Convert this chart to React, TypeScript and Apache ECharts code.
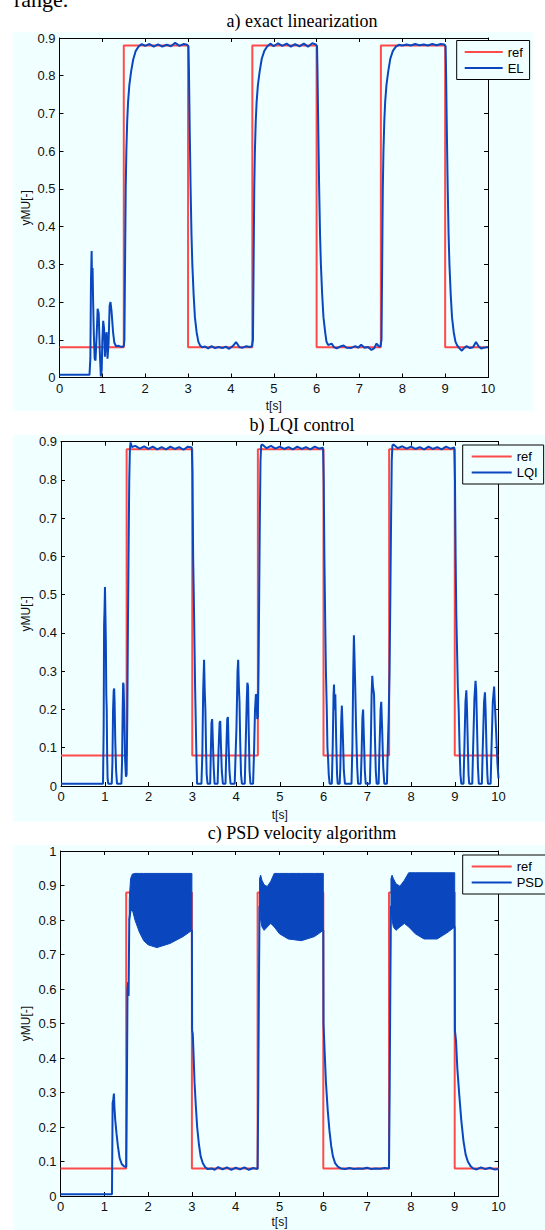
import React, { useEffect, useRef } from "react";
import * as echarts from "echarts";

// ---------------- data ----------------
const refTimes = [0, 1.5, 1.5, 3, 3, 4.5, 4.5, 6, 6, 7.5, 7.5, 9, 9, 10];
const refLevels = [0.08, 0.08, 0.88, 0.88, 0.08, 0.08, 0.88, 0.88, 0.08, 0.08, 0.88, 0.88, 0.08, 0.08];

const elData = [
  [0, 0.007], [0.7, 0.007], [0.72, 0.05], [0.735, 0.26], [0.75, 0.335], [0.76, 0.25], [0.772, 0.29], [0.785, 0.2],
  [0.8, 0.12], [0.82, 0.05], [0.84, 0.045], [0.87, 0.12], [0.89, 0.182], [0.915, 0.17], [0.94, 0.07], [0.965, 0.003],
  [0.985, 0.02], [1.0, 0.1], [1.02, 0.15], [1.04, 0.13], [1.06, 0.055], [1.08, 0.11], [1.1, 0.12], [1.12, 0.05],
  [1.145, 0.09], [1.17, 0.19], [1.19, 0.2], [1.215, 0.175], [1.25, 0.12], [1.28, 0.092], [1.32, 0.083], [1.38, 0.084],
  [1.44, 0.081], [1.5, 0.083],
  [1.515, 0.1], [1.53, 0.3], [1.545, 0.5], [1.56, 0.6], [1.58, 0.68], [1.6, 0.73], [1.63, 0.775], [1.67, 0.81],
  [1.72, 0.843], [1.78, 0.866], [1.85, 0.878], [1.92, 0.884], [2.0, 0.879], [2.1, 0.884], [2.2, 0.877], [2.3, 0.883],
  [2.4, 0.877], [2.5, 0.882], [2.6, 0.878], [2.7, 0.887], [2.8, 0.879], [2.9, 0.884], [2.98, 0.882],
  [3.01, 0.878], [3.02, 0.82], [3.04, 0.65], [3.06, 0.5], [3.08, 0.38], [3.1, 0.3], [3.13, 0.22], [3.16, 0.16],
  [3.2, 0.12], [3.24, 0.095], [3.28, 0.085], [3.33, 0.08], [3.4, 0.082], [3.47, 0.077], [3.55, 0.083], [3.63, 0.078],
  [3.71, 0.081], [3.8, 0.078], [3.88, 0.082], [3.96, 0.076], [4.05, 0.084], [4.12, 0.094], [4.2, 0.08], [4.28, 0.079],
  [4.36, 0.083], [4.44, 0.081], [4.49, 0.083],
  [4.515, 0.1], [4.53, 0.3], [4.545, 0.5], [4.56, 0.6], [4.58, 0.68], [4.6, 0.73], [4.63, 0.775], [4.67, 0.81],
  [4.72, 0.845], [4.78, 0.866], [4.85, 0.878], [4.92, 0.885], [5.0, 0.878], [5.1, 0.886], [5.2, 0.879], [5.3, 0.885],
  [5.4, 0.877], [5.5, 0.884], [5.6, 0.878], [5.7, 0.885], [5.8, 0.877], [5.9, 0.886], [5.98, 0.883],
  [6.01, 0.878], [6.02, 0.82], [6.04, 0.65], [6.06, 0.5], [6.08, 0.38], [6.1, 0.3], [6.13, 0.22], [6.16, 0.16],
  [6.2, 0.12], [6.23, 0.095], [6.27, 0.086], [6.35, 0.09], [6.41, 0.08], [6.47, 0.077], [6.55, 0.082], [6.63, 0.085],
  [6.7, 0.079], [6.8, 0.078], [6.9, 0.083], [6.97, 0.079], [7.04, 0.087], [7.12, 0.079], [7.2, 0.081], [7.28, 0.073],
  [7.34, 0.077], [7.4, 0.09], [7.46, 0.082], [7.49, 0.083],
  [7.515, 0.1], [7.53, 0.3], [7.545, 0.5], [7.56, 0.6], [7.58, 0.68], [7.6, 0.73], [7.63, 0.775], [7.67, 0.81],
  [7.72, 0.845], [7.78, 0.866], [7.85, 0.877], [7.92, 0.882], [8.0, 0.88], [8.1, 0.883], [8.2, 0.88], [8.3, 0.884],
  [8.4, 0.881], [8.5, 0.883], [8.6, 0.88], [8.7, 0.884], [8.8, 0.881], [8.9, 0.884], [8.98, 0.883],
  [9.01, 0.878], [9.02, 0.82], [9.04, 0.65], [9.06, 0.5], [9.08, 0.38], [9.1, 0.3], [9.13, 0.22], [9.16, 0.16],
  [9.2, 0.12], [9.24, 0.095], [9.28, 0.085], [9.33, 0.078], [9.39, 0.071], [9.45, 0.079], [9.5, 0.083], [9.58, 0.078],
  [9.65, 0.08], [9.72, 0.094], [9.78, 0.083], [9.84, 0.077], [9.9, 0.079], [9.96, 0.08], [10, 0.081],
];

const lqiData = [
  [0, 0.006], [0.96, 0.006], [0.975, 0.15], [0.985, 0.42], [0.995, 0.46], [1.005, 0.52], [1.015, 0.45], [1.025, 0.38],
  [1.035, 0.24], [1.045, 0.2], [1.055, 0.08], [1.065, 0.02], [1.08, 0.006], [1.16, 0.006], [1.175, 0.06], [1.19, 0.2],
  [1.205, 0.25], [1.215, 0.255], [1.225, 0.22], [1.24, 0.12], [1.26, 0.04], [1.28, 0.006], [1.38, 0.006], [1.395, 0.06],
  [1.41, 0.2], [1.42, 0.27], [1.43, 0.265], [1.445, 0.19], [1.465, 0.07], [1.485, 0.024], [1.5, 0.03], [1.515, 0.18],
  [1.53, 0.42], [1.545, 0.62], [1.56, 0.8], [1.575, 0.88], [1.59, 0.898], [1.62, 0.886], [1.7, 0.889], [1.8, 0.882],
  [1.9, 0.888], [2.0, 0.881], [2.1, 0.887], [2.2, 0.88], [2.3, 0.886], [2.4, 0.88], [2.5, 0.887], [2.6, 0.881],
  [2.7, 0.886], [2.8, 0.879], [2.9, 0.887], [2.99, 0.885],
  [3.005, 0.82], [3.02, 0.6], [3.035, 0.5], [3.05, 0.38], [3.065, 0.26], [3.08, 0.17], [3.095, 0.08], [3.11, 0.006],
  [3.21, 0.006], [3.23, 0.08], [3.25, 0.25], [3.27, 0.33], [3.285, 0.25], [3.3, 0.2], [3.315, 0.1], [3.33, 0.03],
  [3.35, 0.006], [3.41, 0.006], [3.425, 0.09], [3.44, 0.165], [3.455, 0.175], [3.47, 0.12], [3.49, 0.05], [3.51, 0.006],
  [3.58, 0.006], [3.6, 0.09], [3.625, 0.165], [3.64, 0.17], [3.655, 0.11], [3.675, 0.04], [3.7, 0.006], [3.76, 0.006],
  [3.78, 0.1], [3.8, 0.175], [3.815, 0.18], [3.83, 0.11], [3.85, 0.04], [3.875, 0.006], [3.97, 0.006], [3.99, 0.08],
  [4.01, 0.15], [4.035, 0.3], [4.05, 0.33], [4.065, 0.26], [4.08, 0.22], [4.095, 0.12], [4.115, 0.03], [4.135, 0.006],
  [4.2, 0.006], [4.22, 0.1], [4.245, 0.22], [4.26, 0.27], [4.275, 0.26], [4.29, 0.15], [4.31, 0.04], [4.33, 0.006],
  [4.39, 0.006], [4.41, 0.08], [4.435, 0.2], [4.455, 0.24], [4.47, 0.235], [4.485, 0.175], [4.5, 0.18], [4.515, 0.3],
  [4.53, 0.5], [4.545, 0.7], [4.56, 0.85], [4.575, 0.89], [4.6, 0.893], [4.7, 0.883], [4.8, 0.889], [4.9, 0.882],
  [5.0, 0.887], [5.1, 0.881], [5.2, 0.886], [5.3, 0.88], [5.4, 0.887], [5.5, 0.881], [5.6, 0.886], [5.7, 0.88],
  [5.8, 0.887], [5.9, 0.882], [5.99, 0.884],
  [6.005, 0.8], [6.02, 0.6], [6.04, 0.42], [6.055, 0.3], [6.075, 0.2], [6.09, 0.1], [6.105, 0.07], [6.12, 0.03],
  [6.14, 0.006], [6.19, 0.006], [6.21, 0.1], [6.23, 0.24], [6.24, 0.265], [6.255, 0.2], [6.27, 0.24], [6.29, 0.12],
  [6.31, 0.03], [6.325, 0.006], [6.37, 0.006], [6.385, 0.05], [6.405, 0.17], [6.42, 0.21], [6.44, 0.14], [6.465, 0.04],
  [6.49, 0.006], [6.64, 0.006], [6.66, 0.1], [6.68, 0.3], [6.695, 0.394], [6.71, 0.33], [6.725, 0.26], [6.745, 0.15],
  [6.77, 0.05], [6.79, 0.006], [6.85, 0.006], [6.87, 0.08], [6.89, 0.18], [6.905, 0.2], [6.925, 0.12], [6.945, 0.04],
  [6.965, 0.006], [7.06, 0.006], [7.08, 0.1], [7.1, 0.24], [7.115, 0.288], [7.13, 0.26], [7.155, 0.24], [7.175, 0.13],
  [7.195, 0.04], [7.215, 0.006], [7.26, 0.006], [7.28, 0.1], [7.305, 0.2], [7.32, 0.22], [7.34, 0.15], [7.365, 0.05],
  [7.39, 0.006], [7.45, 0.006], [7.47, 0.1], [7.49, 0.18], [7.51, 0.3], [7.53, 0.52], [7.545, 0.7], [7.56, 0.85],
  [7.575, 0.89], [7.6, 0.893], [7.7, 0.883], [7.8, 0.888], [7.9, 0.882], [8.0, 0.887], [8.1, 0.881], [8.2, 0.886],
  [8.3, 0.88], [8.4, 0.887], [8.5, 0.881], [8.6, 0.886], [8.7, 0.88], [8.8, 0.887], [8.9, 0.882], [8.99, 0.885],
  [9.005, 0.8], [9.02, 0.6], [9.035, 0.45], [9.05, 0.37], [9.07, 0.26], [9.09, 0.2], [9.11, 0.1], [9.13, 0.03],
  [9.15, 0.006], [9.2, 0.006], [9.22, 0.1], [9.245, 0.22], [9.265, 0.25], [9.28, 0.2], [9.3, 0.1], [9.315, 0.03],
  [9.33, 0.006], [9.4, 0.006], [9.42, 0.1], [9.45, 0.23], [9.475, 0.275], [9.49, 0.25], [9.51, 0.15], [9.53, 0.05],
  [9.55, 0.006], [9.62, 0.006], [9.64, 0.1], [9.67, 0.22], [9.69, 0.245], [9.705, 0.2], [9.725, 0.1], [9.745, 0.03],
  [9.76, 0.006], [9.82, 0.006], [9.84, 0.1], [9.87, 0.22], [9.9, 0.26], [9.915, 0.22], [9.95, 0.13], [9.975, 0.06],
  [10, 0.02],
];

// PSD trace outside the fast-oscillation bands (line), bands as [t, lower, upper]
const psdData = [
  [0, 0.005], [1.175, 0.005], [1.19, 0.27], [1.205, 0.28], [1.22, 0.297], [1.23, 0.26], [1.25, 0.22], [1.28, 0.18],
  [1.31, 0.145], [1.35, 0.11], [1.4, 0.092], [1.45, 0.086], [1.5, 0.084], [1.515, 0.3], [1.53, 0.6], [1.545, 0.62],
  [1.555, 0.58], [1.57, 0.8], [1.6, 0.83], [3.0, 0.77],
  [3.005, 0.48], [3.02, 0.47], [3.035, 0.42], [3.06, 0.33], [3.09, 0.26], [3.12, 0.2], [3.16, 0.15], [3.2, 0.115],
  [3.25, 0.095], [3.3, 0.084], [3.36, 0.078], [3.45, 0.08], [3.52, 0.076], [3.6, 0.084], [3.7, 0.077], [3.8, 0.083],
  [3.9, 0.076], [4.0, 0.082], [4.1, 0.077], [4.2, 0.083], [4.3, 0.076], [4.4, 0.081], [4.5, 0.078], [4.515, 0.3],
  [4.53, 0.6], [4.545, 0.84], [6.0, 0.77],
  [6.005, 0.5], [6.03, 0.42], [6.06, 0.33], [6.1, 0.25], [6.14, 0.19], [6.18, 0.145], [6.22, 0.115], [6.27, 0.095],
  [6.33, 0.085], [6.4, 0.08], [6.5, 0.078], [6.6, 0.081], [6.7, 0.078], [6.8, 0.08], [6.9, 0.079], [7.0, 0.082],
  [7.1, 0.078], [7.2, 0.08], [7.3, 0.079], [7.4, 0.081], [7.5, 0.08], [7.515, 0.3], [7.53, 0.6], [7.545, 0.84],
  [9.0, 0.78],
  [9.005, 0.48], [9.03, 0.45], [9.06, 0.37], [9.1, 0.3], [9.15, 0.22], [9.2, 0.16], [9.25, 0.12], [9.3, 0.1],
  [9.36, 0.087], [9.42, 0.08], [9.5, 0.077], [9.6, 0.083], [9.7, 0.078], [9.8, 0.082], [9.9, 0.077], [10, 0.078],
];

const psdBand1 = [
  [1.57, 0.8, 0.86], [1.6, 0.83, 0.92], [1.64, 0.83, 0.933], [1.7, 0.8, 0.935], [1.8, 0.765, 0.935], [1.9, 0.74, 0.935],
  [2.0, 0.728, 0.935], [2.2, 0.72, 0.935], [2.5, 0.732, 0.935], [2.8, 0.752, 0.935], [3.0, 0.77, 0.935],
];
const psdBand2 = [
  [4.545, 0.84, 0.92], [4.57, 0.8, 0.93], [4.6, 0.78, 0.915], [4.65, 0.77, 0.902], [4.72, 0.78, 0.897],
  [4.8, 0.79, 0.912], [4.88, 0.78, 0.935], [5.0, 0.76, 0.935], [5.2, 0.745, 0.935], [5.5, 0.74, 0.935],
  [5.8, 0.752, 0.935], [6.0, 0.77, 0.935],
];
const psdBand3 = [
  [7.545, 0.84, 0.92], [7.57, 0.8, 0.93], [7.6, 0.78, 0.92], [7.66, 0.77, 0.905], [7.75, 0.78, 0.898],
  [7.85, 0.79, 0.915], [7.95, 0.78, 0.937], [8.1, 0.76, 0.937], [8.3, 0.745, 0.937], [8.6, 0.745, 0.937],
  [8.85, 0.765, 0.937], [9.0, 0.78, 0.937],
];

const titles = ["a) exact linearization", "b) LQI control", "c) PSD velocity algorithm"];
const traceNames = ["EL", "LQI", "PSD"];
const yMaxes = [0.9, 0.9, 1.0];

// ---------------- layout / style ----------------
const W = 545;
const H = 1230;
const RED = "#ff4a4a";
const BLUE = "#0a47bf";
const BG = "#f0ffff";
const SANS = "'Liberation Sans', Arial, sans-serif";
const SERIF = "'Liberation Serif', 'Times New Roman', serif";

const grids = [
  { left: 59.5, top: 38, width: 428.5, height: 339.5 },
  { left: 61, top: 441.7, width: 437.5, height: 344.3 },
  { left: 60.5, top: 851, width: 438, height: 345 },
];
const panelsBg = [
  { x: 13, y: 32.3, w: 520, h: 378.7 },
  { x: 13, y: 435, w: 532, h: 386.7 },
  { x: 13, y: 845, w: 532, h: 385 },
];
const legendPos = [
  { left: 456.7, top: 40.5, iw: 38, pl: 8 },
  { left: 462.7, top: 445, iw: 40, pl: 9 },
  { left: 462.7, top: 855, iw: 40, pl: 9 },
];
const titleY = [21, 425, 833];
const xNameY = [406, 815, 1222];

const refPairs = refTimes.map((t, i) => [t, refLevels[i]]);
const traces = [elData, lqiData, psdData];
const bands = [psdBand1, psdBand2, psdBand3];

function buildOption() {
  const xAxis: any[] = [];
  const yAxis: any[] = [];
  const series: any[] = [];
  const legend: any[] = [];
  const graphics: any[] = [];

  const axisCommon = {
    axisLine: { show: true, onZero: false, lineStyle: { color: "#000", width: 1 } },
    axisTick: { show: true, inside: true, length: 4, lineStyle: { color: "#000", width: 1 } },
    splitLine: { show: false },
  };
  const labelStyle = { fontSize: 13, color: "#111", fontFamily: SANS };

  panelsBg.forEach((p) => {
    graphics.push({ type: "rect", z: -10, silent: true, shape: { x: p.x, y: p.y, width: p.w, height: p.h }, style: { fill: BG } });
  });

  grids.forEach((g, i) => {
    xAxis.push({ ...axisCommon, gridIndex: i, type: "value", min: 0, max: 10, interval: 1, position: "bottom",
      axisLabel: { ...labelStyle, margin: 4 } });
    xAxis.push({ ...axisCommon, gridIndex: i, type: "value", min: 0, max: 10, interval: 1, position: "top",
      axisLabel: { show: false } });
    yAxis.push({ ...axisCommon, gridIndex: i, type: "value", min: 0, max: yMaxes[i], interval: 0.1, position: "left",
      axisLabel: { ...labelStyle, margin: 4, formatter: (v: number) => String(Math.round(v * 10) / 10) } });
    yAxis.push({ ...axisCommon, gridIndex: i, type: "value", min: 0, max: yMaxes[i], interval: 0.1, position: "right",
      axisLabel: { show: false } });

    series.push({
      name: "ref", type: "line", xAxisIndex: 2 * i, yAxisIndex: 2 * i, data: refPairs, showSymbol: false,
      symbol: "none", color: RED, lineStyle: { color: RED, width: 2 }, z: 2, clip: true,
    });
    series.push({
      name: traceNames[i], type: "line", xAxisIndex: 2 * i, yAxisIndex: 2 * i, data: traces[i], showSymbol: false,
      symbol: "none", color: BLUE, lineStyle: { color: BLUE, width: 2 }, z: 3, clip: true,
    });

    const lp = legendPos[i];
    legend.push({
      data: ["ref", traceNames[i]], orient: "vertical", left: lp.left, top: lp.top, icon: "rect",
      itemWidth: lp.iw, itemHeight: 2, itemGap: 3, padding: [5, 6, 5, lp.pl], borderColor: "#000", borderWidth: 1,
      backgroundColor: BG, borderRadius: 0, selectedMode: false,
      textStyle: { fontSize: 13, color: "#000", fontFamily: SANS, lineHeight: 13 },
    });

    graphics.push({ type: "text", x: 302, y: titleY[i], style: { text: titles[i], font: `18px ${SERIF}`, fill: "#000", align: "center", verticalAlign: "middle" } });
    graphics.push({ type: "text", x: g.left + g.width / 2, y: xNameY[i], style: { text: "t[s]", font: `12px ${SANS}`, fill: "#111", align: "center", verticalAlign: "middle" } });
    graphics.push({ type: "text", x: 26, y: g.top + g.height / 2, rotation: Math.PI / 2, style: { text: "yMU[-]", font: `12px ${SANS}`, fill: "#111", align: "center", verticalAlign: "middle" } });
  });

  series.push({
    type: "custom", xAxisIndex: 4, yAxisIndex: 4, coordinateSystem: "cartesian2d", z: 4, clip: true,
    data: bands.map((_, i) => [i]),
    renderItem: (_params: any, api: any) => {
      const band = bands[api.value(0)];
      const upper = band.map((p) => api.coord([p[0], p[2]]));
      const lower = band.slice().reverse().map((p) => api.coord([p[0], p[1]]));
      return { type: "polygon", shape: { points: upper.concat(lower) }, style: { fill: BLUE, stroke: BLUE, lineWidth: 1 } };
    },
  });

  graphics.push({ type: "text", x: 14, y: 10, style: { text: "range.", font: `22px ${SERIF}`, fill: "#000", align: "left", verticalAlign: "bottom" } });

  return {
    animation: false,
    backgroundColor: "#fff",
    grid: grids.map((g) => ({ left: g.left, top: g.top, width: g.width, height: g.height, containLabel: false })),
    xAxis, yAxis, series, legend,
    graphic: { elements: graphics },
  };
}

export default function App() {
  const ref = useRef<HTMLDivElement>(null);
  useEffect(() => {
    if (!ref.current) return;
    const chart = echarts.init(ref.current, undefined, { renderer: "svg", width: W, height: H });
    chart.setOption(buildOption() as any);
    return () => chart.dispose();
  }, []);
  return <div ref={ref} style={{ position: "absolute", left: 0, top: 0, width: W, height: H }} />;
}
